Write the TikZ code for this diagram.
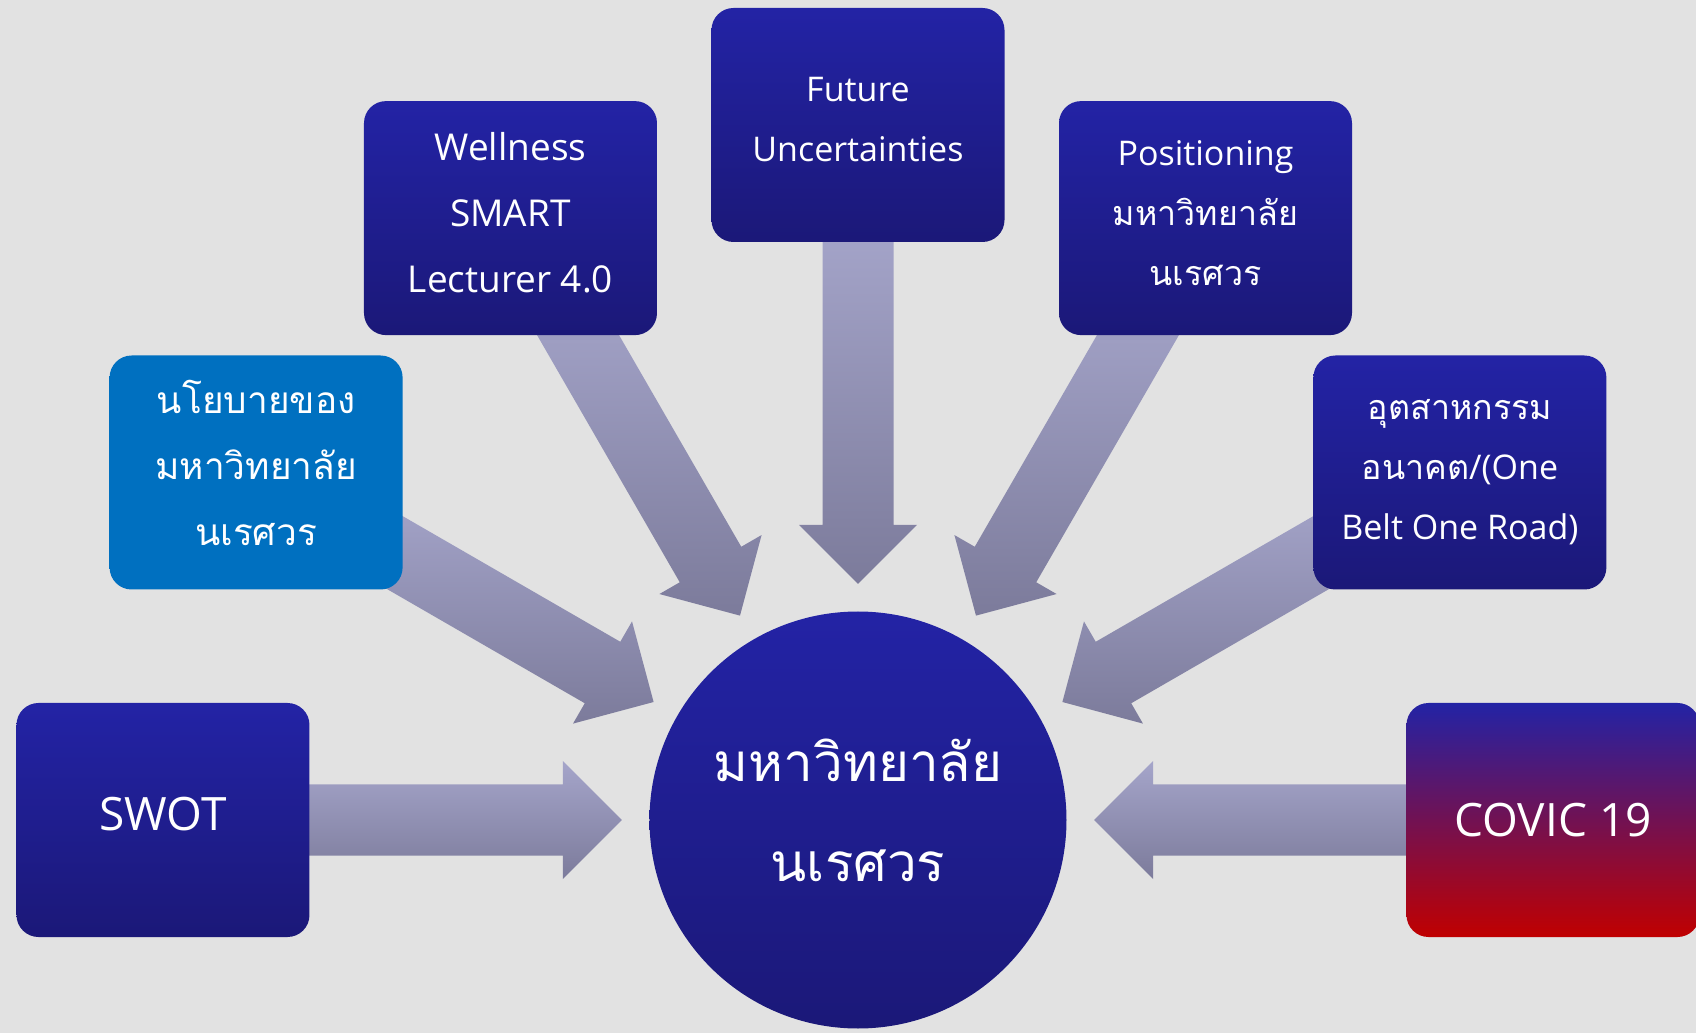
\documentclass[tikz,border=0pt]{standalone}
\usepackage{fontspec}
\setmainfont{Open Sans}
\newfontfamily\thaifont[Script=Thai]{Loma}
\usetikzlibrary{calc,backgrounds}

\definecolor{canvasgray}{RGB}{226,226,226}
\definecolor{boxtop}{RGB}{35,35,165}
\definecolor{boxbottom}{RGB}{27,24,120}
\definecolor{policyblue}{RGB}{0,112,192}
\definecolor{alertred}{RGB}{192,0,0}
\definecolor{arrowtop}{RGB}{165,165,202}
\definecolor{arrowbottom}{RGB}{124,123,155}

% block arrow from a card towards the hub
\newcommand{\flowarrow}[1]{%
  \coordinate (tip)  at ($(hub)!236pt!(#1)$);
  \coordinate (neck) at ($(hub)!295pt!(#1)$);
  \coordinate (tail) at ($(hub)!600pt!(#1)$);
  \path[arrowfill] (tip) -- ($(neck)!59pt!90:(#1)$) -- ($(neck)!35.5pt!90:(#1)$)
    -- ($(tail)!35.5pt!90:(#1)$) -- ($(tail)!35.5pt!-90:(#1)$)
    -- ($(neck)!35.5pt!-90:(#1)$) -- ($(neck)!59pt!-90:(#1)$) -- cycle;}

\begin{document}
\begin{tikzpicture}[x=1pt,y=1pt,
		card/.style={rectangle,rounded corners=22pt,minimum width=293pt,minimum height=234pt,
			inner sep=0pt,top color=boxtop,bottom color=boxbottom},
		softcard/.style={card,top color=policyblue,bottom color=policyblue},
		alertcard/.style={card,top color=boxtop,bottom color=alertred},
		hubdisc/.style={circle,minimum size=417pt,inner sep=0pt,
			top color=boxtop,bottom color=boxbottom},
		arrowfill/.style={top color=arrowtop,bottom color=arrowbottom},
		every label/.style={text=white,align=center,inner sep=0pt},
		big/.style={font=\fontsize{46}{60}\selectfont},
		mid/.style={font=\fontsize{37}{66}\selectfont},
		small/.style={font=\fontsize{34}{60}\selectfont},
		thaimid/.style={font=\thaifont\fontsize{37}{66}\selectfont},
		thaihuge/.style={font=\thaifont\fontsize{53}{100}\selectfont}]
	\useasboundingbox (-858,-213) rectangle (838,820);
	\node[hubdisc,label={[thaihuge,yshift=10pt]center:มหาวิทยาลัย\\นเรศวร}]  (hub) at (0,0) {};
	\node[card,label={[big,yshift=6pt]center:SWOT}]                          (swot)        at (180:695pt) {};
	\node[softcard,label={[thaimid,yshift=10pt]center:นโยบายของ\\มหาวิทยาลัย\\นเรศวร}]
	                                                                          (policy)      at (150:695pt) {};
	\node[card,label={[mid,yshift=5pt]center:Wellness\\SMART\\Lecturer 4.0}] (wellness)    at (120:695pt) {};
	\node[card,label={[small,yshift=5pt]center:Future\\Uncertainties}]       (future)      at (90:695pt)  {};
	\node[card,label={[small,yshift=5pt]center:Positioning\\{\thaifont มหาวิทยาลัย}\\{\thaifont นเรศวร}}]
	                                                                          (positioning) at (60:695pt)  {};
	\node[card,label={[small]center:{\thaifont อุตสาหกรรม}\\{\thaifont อนาคต}/(One\\Belt One Road)}]
	                                                                          (industry)    at (30:695pt)  {};
	\node[alertcard,label={[big]center:COVIC 19}]                            (covic)       at (0:695pt)   {};

	\begin{scope}[on background layer]
		\fill[canvasgray] (-858,-213) rectangle (838,820);
		\foreach \n in {swot,policy,wellness,future,positioning,industry,covic}
			{\flowarrow{\n}}
	\end{scope}
\end{tikzpicture}
\end{document}
